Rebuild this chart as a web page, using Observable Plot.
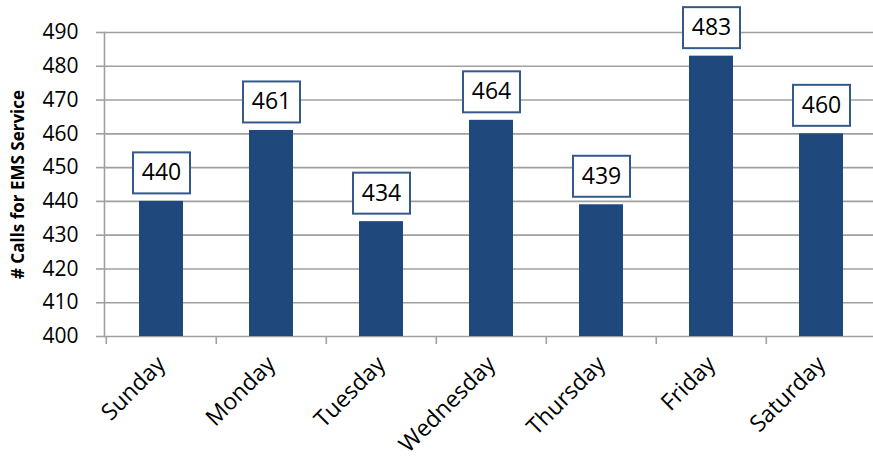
<!DOCTYPE html>
<html>
<head>
<meta charset="utf-8">
<script src="https://cdn.jsdelivr.net/npm/d3@7"></script>
<script src="https://cdn.jsdelivr.net/npm/@observablehq/plot@0.6"></script>
<style>
  html, body { margin: 0; padding: 0; background: #fff; }
</style>
</head>
<body>
<div id="chart"></div>
<script>
const days = ["Sunday", "Monday", "Tuesday", "Wednesday", "Thursday", "Friday", "Saturday"];
const calls = [440, 461, 434, 464, 439, 483, 460];
const yTicks = [400, 410, 420, 430, 440, 450, 460, 470, 480, 490];
const yTitle = "# Calls for EMS Service";

const data = days.map((d, i) => ({day: d, calls: calls[i]}));

const W = 873, H = 460;
const xRange = [104, 877];
const step = (xRange[1] - xRange[0]) / days.length;
const gray = "#a0a0a0";
const font = "Open Sans";

function boxed(index, scales, values, dimensions, context, next) {
  const g = next(index, scales, values, dimensions, context);
  const ns = "http://www.w3.org/2000/svg";
  const bw = 57, bh = 41;
  for (const i of index) {
    const r = document.createElementNS(ns, "rect");
    r.setAttribute("x", values.x[i] - bw / 2);
    r.setAttribute("y", values.y[i] - bh / 2);
    r.setAttribute("width", bw);
    r.setAttribute("height", bh);
    r.setAttribute("fill", "#ffffff");
    r.setAttribute("stroke", "#35598a");
    r.setAttribute("stroke-width", 2);
    g.insertBefore(r, g.firstChild);
  }
  return g;
}

const chart = Plot.plot({
  width: W,
  height: H,
  marginLeft: 104,
  marginRight: 0,
  marginTop: 32,
  marginBottom: 124,
  style: {fontFamily: font, background: "#fff", overflow: "visible"},
  x: {type: "band", domain: days, range: xRange, paddingInner: 0.6, paddingOuter: 0.3, axis: null},
  y: {domain: [400, 490], axis: null},
  marks: [
    Plot.gridY(yTicks, {stroke: gray, strokeOpacity: 1, strokeWidth: 1.6}),
    Plot.frame({anchor: "left", stroke: gray, strokeWidth: 1.6}),
    Plot.axisX({text: null, label: null, tickSize: 8, stroke: gray, strokeWidth: 1.6, dx: -step / 2}),
    Plot.barY(data, {x: "day", y1: 400, y2: "calls", fill: "#1f497d"}),
    Plot.axisY({ticks: yTicks, text: null, label: null, tickSize: 8, stroke: gray, strokeWidth: 1.6}),
    Plot.axisY({ticks: yTicks, tickSize: 0, tickPadding: 26, fontSize: 21, fill: "#000", label: null}),
    Plot.text([yTitle], {frameAnchor: "left", dx: -86, rotate: -90, textAnchor: "middle", lineAnchor: "middle", fontSize: 17, fontWeight: "bold", fill: "#000"}),
    Plot.axisX({tickSize: 0, tickRotate: -45, tickPadding: 24, dx: 0, fontSize: 23, fill: "#000", label: null}),
    Plot.text(data, {x: "day", y: "calls", text: d => String(d.calls), dy: -28.5, fontSize: 23, lineAnchor: "middle", fill: "#000", render: boxed})
  ]
});

document.getElementById("chart").appendChild(chart);
</script>
</body>
</html>
